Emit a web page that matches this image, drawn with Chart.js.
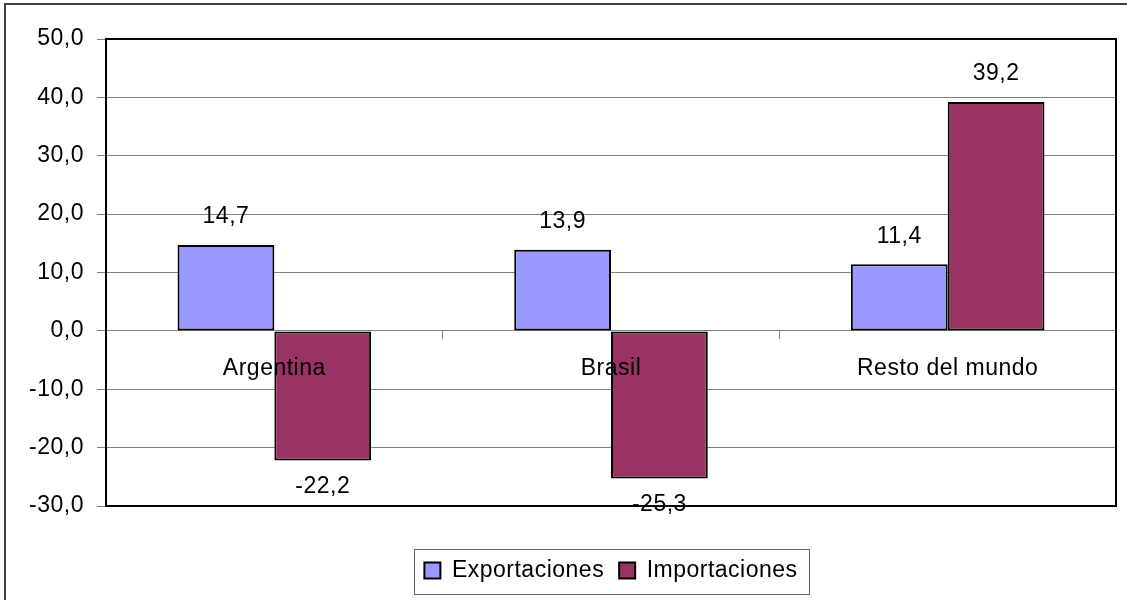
<!DOCTYPE html>
<html>
<head>
<meta charset="utf-8">
<script src="https://cdn.jsdelivr.net/npm/chart.js@4.4.1/dist/chart.umd.min.js"></script>
<style>
  html, body { margin: 0; padding: 0; background: #fff; overflow: hidden; }
  #wrap { position: relative; width: 1127px; height: 600px; }
  #frame { position: absolute; left: 4px; top: 3px; width: 1400px; height: 900px;
           border: 2px solid #404040; pointer-events: none; }
</style>
</head>
<body>
<div id="wrap">
  <canvas id="chart" width="1127" height="600"></canvas>
  <div id="frame"></div>
</div>
<script>
const categories = ['Argentina', 'Brasil', 'Resto del mundo'];
const exportaciones = [14.7, 13.9, 11.4];
const importaciones = [-22.2, -25.3, 39.2];
const seriesNames = ['Exportaciones', 'Importaciones'];

const FONT = "'Liberation Sans', Arial, sans-serif";
const FSIZE = 23;

function fmt(v) {
  return v.toFixed(1).replace('.', ',');
}

// a bit of tracking, the original text is a little wider than plain Arial
const spacing = {
  id: 'spacing',
  beforeLayout(chart) { chart.ctx.letterSpacing = '0.5px'; },
  beforeDraw(chart) { chart.ctx.letterSpacing = '0.5px'; }
};

// black frame around the plot area + box round the legend
const frames = {
  id: 'frames',
  afterDatasetsDraw(chart) {
    const {ctx, chartArea} = chart;
    ctx.save();
    ctx.strokeStyle = '#000';
    ctx.lineWidth = 2;
    ctx.strokeRect(chartArea.left, chartArea.top,
      chartArea.right - chartArea.left, chartArea.bottom - chartArea.top);
    ctx.restore();
  },
  afterDraw(chart) {
    const lg = chart.legend;
    if (!lg || !lg.legendHitBoxes || !lg.legendHitBoxes.length) return;
    const hb = lg.legendHitBoxes;
    const first = hb[0], last = hb[hb.length - 1];
    const cy = first.top + first.height / 2;
    const ctx = chart.ctx;
    ctx.save();
    ctx.strokeStyle = '#666';
    ctx.lineWidth = 1;
    ctx.strokeRect(Math.round(first.left - 10) + 0.5, Math.round(cy - 22) + 0.5,
      Math.round(last.left + last.width - first.left + 22), 45);
    ctx.restore();
  }
};

// value labels above / below the bars
const valueLabels = {
  id: 'valueLabels',
  afterDraw(chart) {
    const ctx = chart.ctx;
    ctx.save();
    ctx.font = FSIZE + 'px ' + FONT;
    ctx.fillStyle = '#000';
    ctx.textAlign = 'center';
    ctx.textBaseline = 'middle';
    chart.data.datasets.forEach((ds, i) => {
      const meta = chart.getDatasetMeta(i);
      meta.data.forEach((bar, j) => {
        const v = ds.data[j];
        const y = v >= 0 ? bar.y - 28 : bar.y + 26;
        ctx.fillText(fmt(v), bar.x, y);
      });
    });
    ctx.restore();
  }
};

const ctx = document.getElementById('chart').getContext('2d');
new Chart(ctx, {
  type: 'bar',
  data: {
    labels: categories,
    datasets: [{
      label: seriesNames[0],
      data: exportaciones,
      backgroundColor: '#9999FF',
      borderColor: '#000',
      borderWidth: 2,
      borderSkipped: false,
      barPercentage: 1,
      categoryPercentage: 0.575
    }, {
      label: seriesNames[1],
      data: importaciones,
      backgroundColor: '#993366',
      borderColor: '#000',
      borderWidth: 2,
      borderSkipped: false,
      barPercentage: 1,
      categoryPercentage: 0.575
    }]
  },
  options: {
    responsive: false,
    animation: false,
    layout: { padding: { left: 0, right: 11, top: 39, bottom: 8 } },
    scales: {
      y: {
        min: -30,
        max: 50,
        ticks: {
          stepSize: 10,
          color: '#000',
          padding: 13,
          font: { family: FONT, size: FSIZE },
          callback: v => fmt(v)
        },
        grid: { color: '#808080', lineWidth: 1, tickLength: 9, tickColor: '#808080' },
        border: { display: false },
        afterFit: s => { s.width = 106; }
      },
      x: {
        position: { y: 0 },
        offset: true,
        ticks: {
          z: 1,
          color: '#000',
          padding: 16,
          maxRotation: 0,
          autoSkip: false,
          font: { family: FONT, size: FSIZE }
        },
        grid: { offset: true, drawOnChartArea: false, tickLength: 8, color: '#808080' },
        border: { display: false }
      },
      spacer: {
        type: 'category',
        position: 'bottom',
        ticks: { display: false },
        grid: { display: false },
        border: { display: false },
        afterFit: s => { s.height = 38; }
      }
    },
    plugins: {
      legend: {
        position: 'bottom',
        fullSize: false,
        labels: {
          color: '#000',
          boxWidth: 16,
          boxHeight: 16,
          padding: 15,
          font: { family: FONT, size: FSIZE }
        }
      },
      tooltip: { enabled: false }
    }
  },
  plugins: [spacing, frames, valueLabels]
});
</script>
</body>
</html>
